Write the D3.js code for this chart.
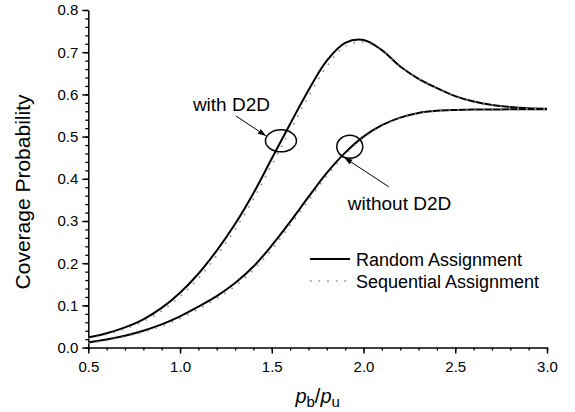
<!DOCTYPE html>
<html>
<head>
<meta charset="utf-8">
<script src="https://cdn.jsdelivr.net/npm/d3@7"></script>
<style>
  body { margin: 0; background: #fff; }
  svg { font-family: "Liberation Sans", Arial, sans-serif; }
</style>
</head>
<body>
<svg width="575" height="412"></svg>
<script>
// x values (p_b / p_u)
var ratio = [0.5, 0.6, 0.7, 0.8, 0.9, 1.0, 1.1, 1.2, 1.3, 1.4, 1.5, 1.6, 1.7,
             1.8, 1.9, 2.0, 2.1, 2.2, 2.3, 2.4, 2.5, 2.6, 2.7, 2.8, 2.9, 3.0];

// with D2D
var d2dRandom = [0.024, 0.034, 0.048, 0.067, 0.094, 0.130, 0.175, 0.230, 0.293, 0.366,
                 0.448, 0.530, 0.610, 0.680, 0.722, 0.729, 0.705, 0.666, 0.637, 0.615,
                 0.596, 0.583, 0.575, 0.570, 0.567, 0.566];
var d2dSeq = [0.022, 0.031, 0.044, 0.062, 0.087, 0.121, 0.164, 0.218, 0.280, 0.352,
              0.433, 0.514, 0.595, 0.667, 0.714, 0.724, 0.703, 0.665, 0.637, 0.615,
              0.596, 0.583, 0.575, 0.570, 0.567, 0.566];

// without D2D
var noD2dRandom = [0.012, 0.019, 0.028, 0.040, 0.055, 0.074, 0.097, 0.122, 0.153, 0.192,
                   0.242, 0.298, 0.357, 0.414, 0.462, 0.500, 0.527, 0.545, 0.556, 0.561,
                   0.563, 0.564, 0.564, 0.565, 0.565, 0.565];
var noD2dSeq = [0.011, 0.017, 0.026, 0.037, 0.051, 0.069, 0.091, 0.116, 0.146, 0.184,
                0.233, 0.290, 0.349, 0.407, 0.457, 0.497, 0.525, 0.544, 0.555, 0.561,
                0.563, 0.564, 0.564, 0.565, 0.565, 0.565];

var xTicks = [0.5, 1.0, 1.5, 2.0, 2.5, 3.0];
var yTicks = [0.0, 0.1, 0.2, 0.3, 0.4, 0.5, 0.6, 0.7, 0.8];
var legendLabels = ["Random Assignment", "Sequential Assignment"];

var svg = d3.select("svg");

var xScale = d3.scaleLinear().domain([0.5, 3.0]).range([88.3, 547]);
var yScale = d3.scaleLinear().domain([0, 0.8]).range([347.6, 10]);

// minor ticks first
var xMinor = d3.range(0.5, 3.001, 0.1);
var yMinor = d3.range(0, 0.801, 0.02);

svg.append("g")
    .attr("transform", "translate(0," + yScale(0) + ")")
    .call(d3.axisBottom(xScale).tickValues(xMinor).tickSize(3).tickFormat(""))
    .call(function(g) { g.select(".domain").remove(); })
    .selectAll("line").attr("stroke-width", 1.3);

svg.append("g")
    .attr("transform", "translate(" + xScale(0.5) + ",0)")
    .call(d3.axisLeft(yScale).tickValues(yMinor).tickSize(3).tickFormat(""))
    .call(function(g) { g.select(".domain").remove(); })
    .selectAll("line").attr("stroke-width", 1.3);

var xAxis = svg.append("g")
    .attr("transform", "translate(0," + yScale(0) + ")")
    .call(d3.axisBottom(xScale).tickValues(xTicks).tickSize(6).tickSizeOuter(0)
        .tickPadding(8).tickFormat(d3.format(".1f")));

var yAxis = svg.append("g")
    .attr("transform", "translate(" + xScale(0.5) + ",0)")
    .call(d3.axisLeft(yScale).tickValues(yTicks).tickSize(6).tickSizeOuter(0)
        .tickPadding(4).tickFormat(d3.format(".1f")));

[xAxis, yAxis].forEach(function(g) {
    g.select(".domain").attr("stroke-width", 1.5);
    g.selectAll(".tick line").attr("stroke-width", 1.5);
    g.selectAll(".tick text")
        .attr("font-size", 15)
        .attr("font-family", "Liberation Sans, Arial, sans-serif")
        .attr("fill", "#000");
});

// axis titles
svg.append("text")
    .attr("transform", "translate(30,192) rotate(-90)")
    .attr("text-anchor", "middle")
    .attr("font-size", 21)
    .text("Coverage Probability");

var xt = svg.append("text")
    .attr("x", xScale(1.75))
    .attr("y", 403)
    .attr("text-anchor", "middle")
    .attr("font-size", 20);
xt.append("tspan").attr("font-style", "italic").text("p");
xt.append("tspan").attr("font-size", 15).attr("dy", 4).text("b");
xt.append("tspan").attr("dy", -4).text("/");
xt.append("tspan").attr("font-style", "italic").text("p");
xt.append("tspan").attr("font-size", 15).attr("dy", 4).text("u");

// curves
var line = d3.line()
    .x(function(d, i) { return xScale(ratio[i]); })
    .y(function(d) { return yScale(d); })
    .curve(d3.curveCatmullRom.alpha(0.5));

[d2dRandom, noD2dRandom].forEach(function(s) {
    svg.append("path").datum(s)
        .attr("d", line)
        .attr("fill", "none")
        .attr("stroke", "#000")
        .attr("stroke-width", 2);
});
[d2dSeq, noD2dSeq].forEach(function(s) {
    svg.append("path").datum(s)
        .attr("d", line)
        .attr("fill", "none")
        .attr("stroke", "#8a8a8a")
        .attr("stroke-width", 1.6)
        .attr("stroke-dasharray", "1.6,7");
});

// annotations
svg.append("defs").append("marker")
    .attr("id", "arr")
    .attr("viewBox", "0 0 10 10")
    .attr("refX", 10).attr("refY", 5)
    .attr("markerWidth", 8).attr("markerHeight", 8)
    .attr("orient", "auto")
    .append("path").attr("d", "M0,1.5 L10,5 L0,8.5 Z").attr("fill", "#000");

svg.append("ellipse")
    .attr("cx", xScale(1.55)).attr("cy", yScale(0.49))
    .attr("rx", 15.5).attr("ry", 11)
    .attr("fill", "none").attr("stroke", "#000").attr("stroke-width", 1.5);
svg.append("ellipse")
    .attr("cx", xScale(1.925)).attr("cy", yScale(0.476))
    .attr("rx", 13).attr("ry", 11.5)
    .attr("fill", "none").attr("stroke", "#000").attr("stroke-width", 1.5);

svg.append("line")
    .attr("x1", xScale(1.304)).attr("y1", yScale(0.549))
    .attr("x2", xScale(1.468)).attr("y2", yScale(0.502))
    .attr("stroke", "#000").attr("stroke-width", 1)
    .attr("marker-end", "url(#arr)");
svg.append("line")
    .attr("x1", xScale(2.138)).attr("y1", yScale(0.381))
    .attr("x2", xScale(1.896)).attr("y2", yScale(0.450))
    .attr("stroke", "#000").attr("stroke-width", 1)
    .attr("marker-end", "url(#arr)");

svg.append("text")
    .attr("x", xScale(1.07)).attr("y", yScale(0.561))
    .attr("font-size", 19).text("with D2D");
svg.append("text")
    .attr("x", xScale(1.914)).attr("y", yScale(0.326))
    .attr("font-size", 19).text("without D2D");

// legend
var legend = svg.append("g").attr("transform", "translate(310,259)");
legendLabels.forEach(function(lab, i) {
    var row = legend.append("g").attr("transform", "translate(0," + (i * 22) + ")");
    row.append("line")
        .attr("x1", 0).attr("x2", 40)
        .attr("stroke", i === 0 ? "#000" : "#8a8a8a")
        .attr("stroke-width", i === 0 ? 2 : 1.6)
        .attr("stroke-dasharray", i === 0 ? null : "1.6,7");
    row.append("text")
        .attr("x", 46).attr("y", 6.5)
        .attr("font-size", 18).text(lab);
});
</script>
</body>
</html>
